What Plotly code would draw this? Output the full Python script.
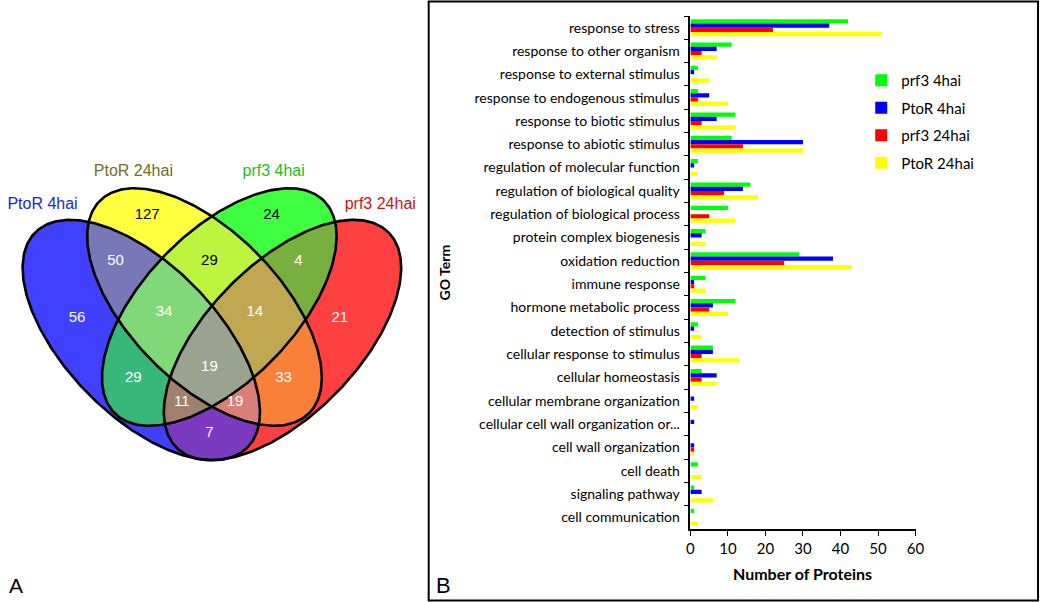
import numpy as np
import plotly.graph_objects as go

# ---------------- data: bar chart (panel B) ----------------
categories = ["response to stress", "response to other organism", "response to external stimulus",
              "response to endogenous stimulus", "response to biotic stimulus", "response to abiotic stimulus",
              "regulation of molecular function", "regulation of biological quality",
              "regulation of biological process", "protein complex biogenesis", "oxidation reduction",
              "immune response", "hormone metabolic process", "detection of stimulus",
              "cellular response to stimulus", "cellular homeostasis", "cellular membrane organization",
              "cellular cell wall organization or...", "cell wall organization", "cell death",
              "signaling pathway", "cell communication"]
prf3_4hai = [42, 11, 2, 2, 12, 11, 2, 16, 10, 4, 29, 4, 12, 2, 6, 3, 0, 0, 0, 2, 1, 1]
ptor_4hai = [37, 7, 1, 5, 7, 30, 1, 14, 0, 3, 38, 1, 6, 1, 6, 7, 1, 1, 1, 0, 3, 0]
prf3_24hai = [22, 3, 0, 2, 3, 14, 0, 9, 5, 0, 25, 1, 5, 0, 3, 3, 0, 0, 1, 0, 0, 0]
ptor_24hai = [51, 7, 5, 10, 12, 30, 2, 18, 12, 4, 43, 4, 10, 3, 13, 7, 2, 0, 1, 3, 6, 2]
series_names = ["prf3 4hai", "PtoR 4hai", "prf3 24hai", "PtoR 24hai"]
x_ticks = [0, 10, 20, 30, 40, 50, 60]

# ---------------- data: Venn diagram (panel A) ----------------
set_names = ["PtoR 4hai", "PtoR 24hai", "prf3 4hai", "prf3 24hai"]
# region code = sum of bits: PtoR 4hai=1, PtoR 24hai=2, prf3 4hai=4, prf3 24hai=8
region_codes = [1, 2, 4, 8, 3, 6, 12, 7, 14, 15, 5, 10, 13, 11, 9]
region_counts = [56, 127, 24, 21, 50, 29, 4, 34, 14, 19, 29, 33, 11, 19, 7]

# ---------------- styles / geometry ----------------
W, H = 1050, 602
FONT_A = "Liberation Sans, Arial, sans-serif"
FONT_B = "Lato, Open Sans, sans-serif"
bar_colors = ["#00FF00", "#0000FF", "#FF0000", "#FFFF00"]
set_label_colors = ["#2222DD", "#6E6E28", "#22BB22", "#CC1111"]
# ellipses in reference pixel space: (cx, cy, a, b, angle)
ellipses = [(139, 340, 152, 76, 45), (203, 307, 150, 75.6, 45),
            (218, 307, 150, 75.6, -45), (282, 340, 152, 76, -45)]
region_fill = {1: "#4040FF", 2: "#FFFF40", 3: "#7878B8", 4: "#40FF40", 5: "#38B878",
               6: "#BBF540", 7: "#80D878", 8: "#FF4040", 9: "#7B3BC0", 10: "#F88038",
               11: "#D88078", 12: "#78B040", 13: "#A0806E", 14: "#C0A852", 15: "#9AA290"}
label_pos = {1: (74, 318), 2: (145, 215), 4: (271, 215), 8: (340, 318), 3: (113, 261),
             6: (208, 261), 12: (298, 261), 7: (162, 312), 14: (254, 312), 15: (208, 367),
             5: (131, 378), 10: (283, 378), 13: (180, 402), 11: (234, 402), 9: (208, 433)}
dark_text_codes = {2, 4, 6}
set_label_pos = [(39, 205), (131, 172), (273, 172), (381, 205)]

fig = go.Figure()

# ---- Venn raster of regions ----
gx = np.arange(8.5, 420, 1.0)
gy = np.arange(175.5, 475, 1.0)
X, Y = np.meshgrid(gx, gy)
code = np.zeros_like(X, dtype=int)
for i, (cx, cy, a, b, ang) in enumerate(ellipses):
    t = np.deg2rad(ang)
    dx, dy = X - cx, Y - cy
    u = dx * np.cos(t) + dy * np.sin(t)
    v = -dx * np.sin(t) + dy * np.cos(t)
    inside = (u / a) ** 2 + (v / b) ** 2 <= 1
    code += inside.astype(int) * (1 << i)
zl = [[None if val == 0 else int(val) for val in row] for row in code]
cs = []
for k in range(1, 16):
    cs.append([(k - 1) / 15, region_fill[k]])
    cs.append([k / 15, region_fill[k]])
fig.add_trace(go.Heatmap(x=gx, y=gy, z=zl, zmin=0.5, zmax=15.5, colorscale=cs, showscale=False,
                         hoverinfo="skip", xaxis="x", yaxis="y", zsmooth=False, showlegend=False))

# ---- ellipse outlines ----
tt = np.linspace(0, 2 * np.pi, 361)
for (cx, cy, a, b, ang) in ellipses:
    t = np.deg2rad(ang)
    ex = cx + a * np.cos(tt) * np.cos(t) - b * np.sin(tt) * np.sin(t)
    ey = cy + a * np.cos(tt) * np.sin(t) + b * np.sin(tt) * np.cos(t)
    fig.add_trace(go.Scatter(x=ex, y=ey, mode="lines", line=dict(color="black", width=2.6),
                             hoverinfo="skip", showlegend=False, xaxis="x", yaxis="y"))

# ---- region counts ----
fig.add_trace(go.Scatter(
    x=[label_pos[c][0] for c in region_codes], y=[label_pos[c][1] for c in region_codes],
    text=[str(n) for n in region_counts], mode="text",
    textfont=dict(family=FONT_A, size=15,
                  color=["black" if c in dark_text_codes else "white" for c in region_codes]),
    hoverinfo="skip", showlegend=False, xaxis="x", yaxis="y"))

# ---- set labels ----
fig.add_trace(go.Scatter(
    x=[p[0] for p in set_label_pos], y=[p[1] for p in set_label_pos], text=set_names, mode="text",
    textfont=dict(family=FONT_A, size=16, color=set_label_colors),
    hoverinfo="skip", showlegend=False, xaxis="x", yaxis="y"))

# ---- bars ----
for name, vals, col in zip(series_names, [prf3_4hai, ptor_4hai, prf3_24hai, ptor_24hai], bar_colors):
    fig.add_trace(go.Bar(y=categories, x=vals, name=name, orientation="h", marker=dict(color=col, line_width=0),
                         xaxis="x2", yaxis="y2", legendgroup=name))

fig.update_layout(
    width=W, height=H, margin=dict(l=0, r=0, t=0, b=0),
    paper_bgcolor="white", plot_bgcolor="rgba(0,0,0,0)",
    barmode="group", bargap=0.27, bargroupgap=0,
    xaxis=dict(domain=[0, 420 / W], range=[0, 420], visible=False, fixedrange=True),
    yaxis=dict(domain=[0, 1], range=[H, 0], visible=False, fixedrange=True),
    xaxis2=dict(domain=[695 / W, 923 / W], range=[0, 60], tickvals=x_ticks, anchor="y2",
                showline=True, linecolor="black", linewidth=1.5, ticks="outside", ticklen=5,
                tickcolor="black", showgrid=False, zeroline=False,
                tickfont=dict(family=FONT_B, size=15, color="black")),
    yaxis2=dict(domain=[(H - 529) / H, (H - 16) / H], anchor="x2", type="category",
                categoryorder="array", categoryarray=categories, range=[21.5, -0.5],
                showline=True, linecolor="black", linewidth=1.5, ticks="outside", ticklen=5,
                tickcolor="black", tickson="boundaries", showgrid=False, ticklabelstandoff=6,
                tickfont=dict(family=FONT_B, size=14, color="black")),
    legend=dict(x=868 / W, y=1 - 64 / H, xanchor="left", yanchor="top",
                font=dict(family=FONT_B, size=15, color="black"), tracegroupgap=5,
                bgcolor="rgba(0,0,0,0)"),
    showlegend=True,
)

annotations = [
    dict(text="<b>Number of Proteins</b>", x=809 / W, y=1 - 573 / H, xref="paper", yref="paper",
         showarrow=False, font=dict(family=FONT_B, size=16, color="black"), xanchor="center", yanchor="middle"),
    dict(text="<b>GO Term</b>", x=446 / W, y=1 - 272 / H, xref="paper", yref="paper", textangle=-90,
         showarrow=False, font=dict(family=FONT_B, size=14, color="black"), xanchor="center", yanchor="middle"),
    dict(text="A", x=12 / W, y=1 - 585 / H, xref="paper", yref="paper", showarrow=False,
         font=dict(family=FONT_A, size=21, color="black"), xanchor="center", yanchor="middle"),
    dict(text="B", x=445 / W, y=1 - 585 / H, xref="paper", yref="paper", showarrow=False,
         font=dict(family=FONT_A, size=22, color="black"), xanchor="center", yanchor="middle"),
]
fig.update_layout(annotations=annotations)

fig.add_shape(type="rect", xref="paper", yref="paper", x0=430 / W, x1=1047 / W, y0=1 - 600.5 / H, y1=1 - 1.5 / H,
              line=dict(color="black", width=2), fillcolor="rgba(0,0,0,0)")

fig.write_html(
    "out.html",
    config={"displayModeBar": False},
    post_script=("document.documentElement.style.margin='0px';document.documentElement.style.overflow='hidden';"
                 "document.body.style.margin='0px';document.body.style.padding='0px';"
                 "document.body.style.overflow='hidden';"),
)
